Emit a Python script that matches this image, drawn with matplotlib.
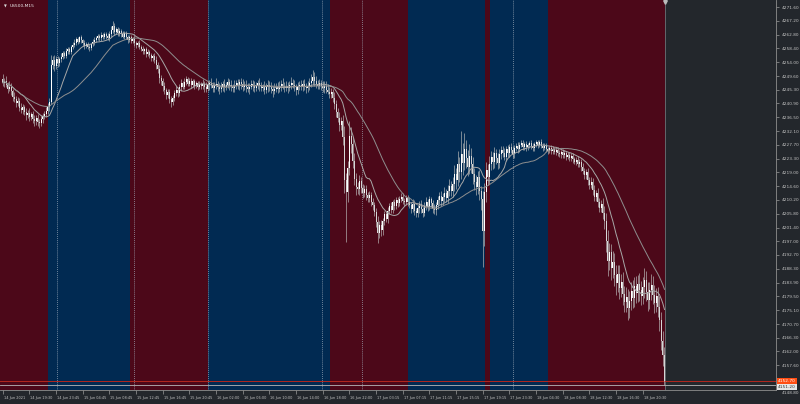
import numpy as np
import pandas as pd
import matplotlib
matplotlib.use("Agg")
import matplotlib.pyplot as plt
import matplotlib.transforms as mtransforms

# ---------------- data (US500, M15) ----------------
first_open = 4248.6
close = [
4247.5, 4248.2, 4246.9, 4245.6, 4246.3, 4244.8, 4243.1, 4242.4, 4241.0, 4241.8,
4239.6, 4238.9, 4239.7, 4238.2, 4237.1, 4237.9, 4236.5, 4237.4, 4236.0, 4235.2,
4236.4, 4235.1, 4234.7, 4235.9, 4236.8, 4237.6, 4238.5, 4239.8, 4241.5, 4253.0,
4254.6, 4252.8, 4255.1, 4253.7, 4254.9, 4255.8, 4256.9, 4256.1, 4257.6, 4258.2,
4257.4, 4258.8, 4259.6, 4260.3, 4261.4, 4260.6, 4261.9, 4261.0, 4260.2, 4259.1,
4259.8, 4259.0, 4258.5, 4259.7, 4260.4, 4261.2, 4261.8, 4262.3, 4261.6, 4262.8,
4262.1, 4263.0, 4262.4, 4261.7, 4262.9, 4264.2, 4265.6, 4263.8, 4264.5, 4263.2,
4264.0, 4263.1, 4262.2, 4263.3, 4262.0, 4261.2, 4261.9, 4260.8, 4261.5, 4260.1,
4259.4, 4260.2, 4259.0, 4258.3, 4257.5, 4258.1, 4256.7, 4257.3, 4256.2, 4255.4,
4256.1, 4254.8, 4253.2, 4251.8, 4249.0, 4248.2, 4246.5, 4245.1, 4243.6, 4244.5,
4242.3, 4241.4, 4242.8, 4244.1, 4245.3, 4244.2, 4246.0, 4247.4, 4246.3, 4247.8,
4248.6, 4247.2, 4248.1, 4246.8, 4247.9, 4246.5, 4247.3, 4246.1, 4247.0, 4246.4,
4247.2, 4246.0, 4245.6, 4246.8, 4247.5, 4246.7, 4245.9, 4246.5, 4247.1, 4246.3,
4245.4, 4246.2, 4247.0, 4246.1, 4246.9, 4247.6, 4246.8, 4246.0, 4245.7, 4246.6,
4247.3, 4246.5, 4247.8, 4247.0, 4246.2, 4246.9, 4246.1, 4245.5, 4246.3, 4247.1,
4246.4, 4245.8, 4246.7, 4247.4, 4246.6, 4245.9, 4246.2, 4245.3, 4246.0, 4246.8,
4246.1, 4245.4, 4244.8, 4245.6, 4246.3, 4245.5, 4246.4, 4247.2, 4246.5, 4245.8,
4246.6, 4245.9, 4246.7, 4247.5, 4246.8, 4246.0, 4245.2, 4246.1, 4246.9, 4246.2,
4247.0, 4246.4, 4245.7, 4246.5, 4247.3, 4248.2, 4249.4, 4248.1, 4247.2, 4246.5,
4247.3, 4246.4, 4245.8, 4246.6, 4245.3, 4244.6, 4243.8, 4244.5, 4242.8, 4240.6,
4238.1, 4236.4, 4234.0, 4235.3, 4230.2, 4216.5, 4212.8, 4220.4, 4230.6, 4228.0,
4222.5, 4217.0, 4214.3, 4213.6, 4216.2, 4214.0, 4212.5, 4213.8, 4211.7, 4210.9,
4211.8, 4209.4, 4208.6, 4206.3, 4203.2, 4199.8, 4202.1, 4200.5, 4203.4, 4205.6,
4204.3, 4206.7, 4208.2, 4207.1, 4209.5, 4208.4, 4210.1, 4209.2, 4210.6, 4211.3,
4210.0, 4209.4, 4210.8, 4209.7, 4208.6, 4207.4, 4209.0, 4206.8, 4205.9, 4207.5,
4208.8, 4207.2, 4206.1, 4208.3, 4209.6, 4208.1, 4210.4, 4209.2, 4207.6, 4206.9,
4208.5, 4210.2, 4211.5, 4209.8, 4211.0, 4212.4, 4210.7, 4213.1, 4214.6, 4212.9,
4215.3, 4218.4, 4216.7, 4221.5, 4219.2, 4224.8, 4222.1, 4226.3, 4223.4, 4220.6,
4224.1, 4221.8, 4218.5, 4216.0, 4214.2, 4217.5, 4213.1, 4210.4, 4200.2, 4212.6,
4219.8, 4217.4, 4221.6, 4223.9, 4222.2, 4225.0, 4223.6, 4221.9, 4224.7, 4226.1,
4225.3, 4224.0, 4226.4, 4225.1, 4227.2, 4226.0, 4224.8, 4226.7, 4227.5, 4226.4,
4227.8, 4228.4, 4227.1, 4228.0, 4226.9, 4227.6, 4228.3, 4227.4, 4226.6, 4227.9,
4228.5, 4227.8, 4228.6, 4227.5, 4226.8, 4227.4, 4226.3, 4225.9, 4226.7, 4225.8,
4226.5, 4225.6, 4226.2, 4225.1, 4224.7, 4225.5, 4224.4, 4225.2, 4224.0, 4224.6,
4223.5, 4224.2, 4223.1, 4222.4, 4223.0, 4221.6, 4222.3, 4220.8, 4219.5, 4218.2,
4219.0, 4216.4, 4215.1, 4216.0, 4213.5, 4211.2, 4212.4, 4209.6, 4207.8, 4208.9,
4206.2, 4203.5, 4197.2, 4190.8, 4193.5, 4188.4, 4190.6, 4186.2, 4183.9, 4186.5,
4182.1, 4184.0, 4180.3, 4177.6, 4179.4, 4175.8, 4177.9, 4181.2, 4179.0, 4182.8,
4180.6, 4183.5, 4181.7, 4179.8, 4182.4, 4184.6, 4180.9, 4178.3, 4181.5, 4183.2,
4180.1, 4177.4, 4179.6, 4176.2, 4172.0, 4165.3, 4160.8, 4152.7]

# wick lengths above max(open, close)
up_wick = [
1.8, 0.9, 1.3, 0.8, 1.6, 1.0, 0.7, 1.4, 0.9, 1.2,
0.8, 1.3, 1.0, 0.7, 1.2, 0.9, 1.5, 0.8, 1.0, 1.3,
0.9, 1.2, 0.8, 1.3, 1.0, 0.9, 1.2, 1.4, 1.3, 3.2,
1.4, 1.8, 1.0, 0.9, 0.7, 1.1, 0.8, 0.6, 0.9, 0.7,
0.8, 0.6, 0.9, 1.0, 0.7, 0.8, 0.6, 0.9, 0.5, 0.8,
0.7, 0.6, 0.8, 0.5, 0.9, 0.7, 0.6, 0.8, 0.7, 0.9,
0.6, 0.8, 0.7, 0.9, 1.1, 1.4, 1.6, 0.9, 0.8, 0.7,
0.8, 0.6, 0.9, 0.7, 0.8, 0.6, 0.7, 0.9, 0.5, 0.8,
0.6, 0.7, 0.9, 0.5, 0.8, 0.6, 0.7, 0.9, 0.6, 0.8,
0.7, 0.9, 1.2, 1.0, 1.5, 1.1, 0.9, 1.3, 0.8, 1.0,
0.9, 1.1, 0.8, 1.0, 1.2, 0.9, 1.0, 1.3, 0.8, 1.1,
0.9, 0.7, 1.0, 0.8, 0.9, 0.7, 0.8, 0.6, 0.9, 0.7,
1.4, 1.0, 1.7, 1.2, 0.9, 1.5, 1.1, 1.3, 1.8, 1.0,
1.2, 1.6, 1.0, 1.7, 0.9, 1.3, 1.1, 1.5, 1.2, 1.8,
1.0, 1.5, 0.9, 1.3, 1.7, 1.1, 1.6, 1.2, 1.0, 1.4,
1.3, 1.8, 1.1, 0.9, 1.5, 1.2, 1.0, 1.7, 1.3, 1.5,
1.1, 1.6, 1.2, 1.8, 1.0, 1.3, 1.5, 1.1, 1.7, 1.2,
1.5, 1.0, 1.3, 1.8, 1.1, 1.6, 1.2, 1.7, 1.0, 1.4,
1.3, 1.7, 1.1, 1.5, 1.8, 2.0, 2.2, 1.6, 1.4, 1.2,
1.5, 1.1, 1.7, 1.3, 1.5, 1.8, 1.6, 1.4, 1.1, 1.6,
1.3, 1.5, 1.8, 1.2, 1.9, 3.5, 2.4, 2.2, 4.6, 2.8,
2.1, 2.6, 1.8, 1.5, 1.9, 1.2, 1.4, 1.1, 1.3, 1.0,
1.2, 0.9, 1.3, 1.1, 1.5, 1.8, 1.4, 1.6, 1.2, 1.1,
1.0, 1.3, 0.9, 1.2, 0.8, 1.1, 0.9, 1.0, 0.8, 1.2,
1.0, 0.8, 1.1, 0.9, 1.3, 1.0, 1.4, 1.1, 0.9, 1.2,
1.0, 1.3, 0.9, 1.1, 1.4, 1.0, 1.2, 0.9, 1.1, 1.3,
1.1, 1.4, 1.2, 1.6, 1.3, 1.8, 1.2, 2.0, 2.4, 1.6,
2.2, 3.0, 2.1, 4.2, 2.5, 7.5, 3.4, 5.2, 3.0, 2.6,
4.0, 2.5, 2.2, 1.8, 2.0, 1.9, 2.3, 1.7, 2.5, 3.0,
2.4, 2.0, 2.6, 1.8, 1.5, 1.9, 1.4, 1.6, 1.8, 1.3,
1.2, 1.5, 1.1, 1.3, 0.9, 1.2, 1.4, 1.0, 0.8, 1.1,
0.9, 0.8, 1.0, 0.7, 0.9, 0.8, 0.6, 0.9, 1.0, 0.8,
0.7, 0.9, 0.8, 1.0, 0.7, 0.8, 0.9, 0.7, 0.8, 1.0,
0.8, 0.7, 0.9, 0.8, 1.0, 0.7, 0.8, 0.9, 0.7, 0.8,
0.9, 0.8, 1.0, 0.7, 0.9, 1.1, 0.8, 1.0, 1.2, 0.9,
1.1, 1.3, 1.0, 1.4, 1.2, 1.5, 1.1, 1.6, 1.3, 1.4,
1.8, 2.1, 2.6, 3.4, 3.0, 2.8, 3.5, 2.6, 3.2, 2.9,
3.0, 2.7, 3.4, 2.5, 3.1, 2.6, 3.3, 2.8, 3.6, 2.9,
3.1, 2.7, 3.5, 2.8, 3.3, 4.0, 2.9, 3.2, 2.7, 3.4,
2.8, 3.1, 2.6, 2.9, 3.4, 2.7, 3.2, 2.5]

# wick lengths below min(open, close)
dn_wick = [
1.0, 1.4, 0.9, 1.3, 0.8, 1.2, 1.4, 0.9, 1.3, 1.0,
1.2, 0.9, 1.4, 1.0, 1.3, 0.8, 1.2, 0.9, 1.3, 1.6,
1.0, 1.3, 1.7, 0.9, 1.2, 0.8, 1.0, 0.9, 1.2, 0.9,
1.0, 1.6, 0.9, 1.2, 0.8, 0.7, 0.9, 0.8, 0.6, 0.9,
0.7, 0.9, 0.6, 0.8, 0.7, 0.9, 0.6, 0.8, 1.0, 0.9,
0.6, 0.8, 0.9, 0.7, 0.6, 0.8, 0.7, 0.6, 0.9, 0.7,
0.8, 0.7, 0.9, 0.6, 0.8, 0.7, 0.9, 1.0, 0.7, 0.8,
0.7, 0.9, 0.6, 0.8, 0.7, 0.9, 0.6, 0.8, 0.7, 0.9,
0.8, 0.6, 0.9, 0.7, 1.0, 0.8, 0.9, 0.7, 0.8, 1.0,
0.9, 1.1, 1.4, 1.2, 1.6, 1.3, 1.5, 1.2, 1.4, 1.1,
1.3, 1.5, 1.0, 1.2, 0.9, 1.1, 0.8, 1.0, 0.9, 0.8,
0.9, 0.7, 0.8, 1.0, 0.7, 0.9, 0.6, 0.8, 0.7, 0.9,
1.0, 1.4, 1.1, 0.8, 1.6, 1.0, 1.3, 1.2, 0.9, 1.5,
1.6, 1.0, 1.2, 1.4, 1.0, 1.1, 1.7, 1.0, 1.3, 1.2,
1.1, 0.9, 1.4, 1.6, 1.2, 1.0, 1.5, 1.1, 1.7, 0.9,
1.4, 1.2, 1.0, 1.3, 1.6, 1.1, 0.9, 1.4, 1.2, 1.6,
1.2, 1.3, 1.7, 1.0, 1.2, 1.4, 1.0, 1.6, 1.1, 1.3,
1.0, 1.6, 1.1, 1.3, 0.9, 1.2, 1.7, 1.4, 1.0, 1.1,
1.4, 1.1, 1.6, 1.0, 1.3, 1.2, 1.5, 1.6, 1.3, 1.1,
1.0, 1.3, 1.2, 1.5, 1.0, 0.8, 1.1, 1.2, 1.4, 1.3,
1.6, 1.4, 1.9, 1.5, 2.6, 4.2, 16.0, 3.1, 2.4, 2.8,
2.2, 1.9, 2.4, 1.6, 1.8, 1.5, 1.7, 1.3, 1.5, 1.2,
1.4, 1.1, 1.5, 1.3, 1.7, 3.2, 1.6, 1.9, 1.4, 1.2,
1.1, 1.4, 1.0, 1.2, 0.9, 1.3, 1.0, 1.1, 0.9, 1.2,
1.0, 1.2, 0.9, 1.3, 1.1, 1.4, 1.0, 1.5, 1.2, 1.0,
1.3, 1.1, 1.4, 1.0, 1.2, 1.5, 1.1, 1.3, 1.6, 1.2,
1.4, 1.1, 1.3, 1.5, 1.2, 1.6, 1.3, 1.4, 1.7, 1.5,
1.8, 2.3, 2.9, 2.1, 3.4, 2.2, 3.8, 2.4, 3.1, 2.7,
2.2, 2.9, 3.3, 2.6, 2.4, 2.1, 2.8, 3.5, 11.2, 4.5,
3.0, 2.4, 2.1, 1.9, 2.3, 1.7, 1.8, 2.0, 1.6, 1.5,
1.4, 1.2, 1.5, 1.1, 1.3, 1.0, 1.4, 1.2, 0.9, 1.1,
1.0, 0.8, 1.1, 0.9, 1.0, 0.8, 0.9, 1.1, 0.8, 0.9,
0.8, 1.0, 0.9, 0.7, 1.0, 0.8, 0.9, 1.1, 0.8, 1.0,
0.9, 0.8, 1.0, 0.9, 0.7, 1.0, 0.8, 0.9, 1.1, 0.8,
1.0, 0.9, 1.1, 0.8, 1.2, 1.0, 0.9, 1.3, 1.1, 1.2,
1.2, 1.5, 1.3, 1.1, 1.6, 1.4, 1.2, 1.7, 1.5, 1.3,
2.0, 2.4, 3.5, 4.8, 3.0, 3.6, 2.9, 3.3, 3.8, 3.1,
3.4, 2.9, 3.6, 3.2, 3.0, 3.8, 3.1, 2.8, 3.3, 2.9,
3.2, 2.8, 3.5, 3.0, 2.7, 3.3, 2.9, 3.4, 2.8, 3.1,
3.0, 3.3, 2.7, 3.1, 3.5, 2.9, 3.4, 1.4]

tick_bars = list(range(0, 385, 16))
tick_labels = ['14 Jun 2021', '14 Jun 19:30', '14 Jun 23:45', '15 Jun 04:45', '15 Jun 08:45',
               '15 Jun 12:45', '15 Jun 16:45', '15 Jun 20:45', '16 Jun 02:00', '16 Jun 06:00',
               '16 Jun 10:00', '16 Jun 14:00', '16 Jun 18:00', '16 Jun 22:00', '17 Jun 03:15',
               '17 Jun 07:15', '17 Jun 11:15', '17 Jun 15:15', '17 Jun 19:15', '17 Jun 23:30',
               '18 Jun 04:30', '18 Jun 08:30', '18 Jun 12:30', '18 Jun 16:30', '18 Jun 20:30']
price_ticks = [4271.60, 4267.20, 4262.80, 4258.40, 4254.00, 4249.60, 4245.30, 4240.90,
               4236.50, 4232.10, 4227.70, 4223.30, 4219.00, 4214.60, 4210.20, 4205.80,
               4201.40, 4197.00, 4192.70, 4188.30, 4183.90, 4179.50, 4175.10, 4170.70,
               4166.30, 4162.00, 4157.60]
low_label_price = 4148.80

# session bands (bar positions) - alternating red / blue
band_edges = [-1.62, 27.2, 76.4, 123.2, 196.4, 243.1, 289.3, 292.3, 327.1, 397.3]
band_colors = ['#4c0819', '#012a52'] * 5
separators = [32.6, 78.8, 123.2, 191.5, 215.6, 306.1]
bid_price = 4152.7
line2_price = 4151.2
fast_period = 14
slow_period = 38

# ---------------- derived ----------------
n = len(close)
c = np.array(close)
o = np.array([first_open] + close[:-1])
hi = np.maximum(o, c) + np.array(up_wick[:n])
lo = np.minimum(o, c) - np.array(dn_wick[:n])
x = np.arange(n)
fast = pd.Series(c).rolling(fast_period, min_periods=1).mean()
slow = pd.Series(c).rolling(slow_period, min_periods=1).mean()

BG = '#23272c'
fig = plt.figure(figsize=(8, 4.04), dpi=100, facecolor=BG)
ax = fig.add_axes([0, 14 / 404, 776 / 800, 390 / 404])
ax.set_facecolor(BG)
ax.set_xlim(-1.62, 463.9)
ax.set_ylim(4149.74, 4273.83)

for i in range(len(band_edges) - 1):
    ax.axvspan(band_edges[i], band_edges[i + 1], color=band_colors[i], lw=0, zorder=0)

for s in separators:
    ax.axvline(s, color='#aeb9c6', lw=0.5, ls=(0, (1.2, 1.6)), zorder=1)
ax.axvline(band_edges[-1], color='#6d7176', lw=0.6, zorder=1)

# candles
ax.vlines(x, lo, hi, color='#bdbdbd', lw=0.45, zorder=3)
up = c >= o
body_bot = np.minimum(o, c)
body_h = np.maximum(np.abs(c - o), 0.2)
ax.bar(x[up], body_h[up], bottom=body_bot[up], width=0.62, color='#ffffff', lw=0, zorder=4)
ax.bar(x[~up], body_h[~up], bottom=body_bot[~up], width=0.62, color='#d6d6d6', lw=0, zorder=4)

# moving averages
ax.plot(x, fast, color='#a8a8a8', lw=0.7, zorder=5)
ax.plot(x, slow, color='#8f8f8f', lw=0.7, zorder=5)

# price lines
ax.axhline(bid_price, color='#b3261e', lw=0.7, zorder=2)
ax.axhline(line2_price, color='#b8b8b8', lw=0.6, zorder=2)

# axes styling
for side in ['left', 'top']:
    ax.spines[side].set_visible(False)
for side in ['right', 'bottom']:
    ax.spines[side].set_color('#8e8e8e')
    ax.spines[side].set_linewidth(0.6)
ax.yaxis.tick_right()
ax.set_yticks(price_ticks)
ax.set_yticklabels(['%.2f' % v for v in price_ticks])
ax.tick_params(axis='y', direction='out', length=2.5, width=0.5, colors='#9a9a9a',
               labelsize=3.1, labelcolor='#c4c4c4', pad=1.5)
ax.set_xticks(tick_bars)
ax.set_xticklabels(tick_labels, ha='left')
ax.tick_params(axis='x', direction='out', length=3, width=0.5, colors='#9a9a9a',
               labelsize=2.55, labelcolor='#c4c4c4', pad=1.3)
offset = mtransforms.ScaledTranslation(1.0 / 100, 0, fig.dpi_scale_trans)
for lab in ax.get_xticklabels():
    lab.set_transform(lab.get_transform() + offset)

ax.annotate('%.2f' % low_label_price, xy=(1.0, low_label_price), xycoords=('axes fraction', 'data'),
            xytext=(4, 0), textcoords='offset points', fontsize=3.1, color='#c4c4c4',
            va='center', ha='left', annotation_clip=False)

# price labels at right
ax.annotate('%.2f' % bid_price, xy=(1.0, bid_price), xycoords=('axes fraction', 'data'),
            xytext=(1.5, 0), textcoords='offset points', fontsize=3.1, color='white',
            va='center', ha='left', annotation_clip=False,
            bbox=dict(boxstyle='square,pad=0.25', fc='#ff4d12', ec='none'))
ax.annotate('%.2f' % line2_price, xy=(1.0, line2_price), xycoords=('axes fraction', 'data'),
            xytext=(1.5, -1.2), textcoords='offset points', fontsize=3.1, color='#303030',
            va='center', ha='left', annotation_clip=False,
            bbox=dict(boxstyle='square,pad=0.25', fc='#e6e6e6', ec='none'))

# symbol label and shift marker
fig.text(4 / 800, 1 - 6 / 404, '\u25bc', fontsize=2.6, color='#dddddd', va='center', ha='left')
fig.text(10 / 800, 1 - 6 / 404, 'US500,M15', fontsize=3.2, color='#eeeeee', va='center', ha='left')
ax.plot([band_edges[-1]], [4273.3], marker='v', ms=2.6, color='#bbbbbb', clip_on=False, zorder=6)

fig.savefig('out.png', dpi=100, facecolor=BG)
